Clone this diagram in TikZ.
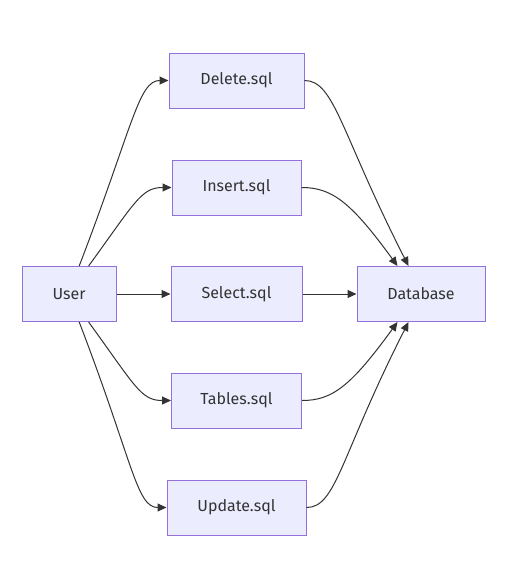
\documentclass[tikz,border=0pt]{standalone}
\usepackage{fontspec}
\setmainfont{Fira Sans}
\usetikzlibrary{arrows.meta}
\definecolor{boxfill}{HTML}{ECECFF}
\definecolor{boxline}{HTML}{9370DB}
\definecolor{edgegray}{HTML}{333333}
\tikzset{sqlbox/.style={draw=boxline, fill=boxfill, line width=1pt, minimum height=55pt, inner sep=0pt, text=edgegray, font=\fontsize{16}{19}\selectfont}}
\tikzset{flow/.style={draw=edgegray, line width=1pt, -{Triangle[length=9pt,width=8pt]}}}

\begin{document}
\begin{tikzpicture}[x=1pt,y=1pt]
\useasboundingbox (0,0) rectangle (517,-574);
\node[sqlbox, minimum width=94pt] (user) at (69,-294) {User};
\node[sqlbox, minimum width=135pt] (delete) at (236.5,-80.5) {Delete.sql};
\node[sqlbox, minimum width=129pt] (insert) at (236.5,-187.5) {Insert.sql};
\node[sqlbox, minimum width=131pt] (select) at (236.5,-294) {Select.sql};
\node[sqlbox, minimum width=130pt] (tables) at (236.5,-400.5) {Tables.sql};
\node[sqlbox, minimum width=139pt] (update) at (236.5,-507.5) {Update.sql};
\node[sqlbox, minimum width=128pt] (database) at (421,-294) {Database};
% user to the scripts
\draw[flow] (user.70) .. controls +(69:150) and +(-30,0) .. (delete.west);
\draw[flow] (user.55) .. controls +(54:80) and +(-30,0) .. (insert.west);
\draw[flow] (user.east) -- (select.west);
\draw[flow] (user.-55) .. controls +(-54:80) and +(-30,0) .. (tables.west);
\draw[flow] (user.-70) .. controls +(-69:150) and +(-30,0) .. (update.west);
% scripts to the database
\draw[flow] (delete.east) .. controls +(30,0) and +(117:150) .. (database.114);
\draw[flow] (insert.east) .. controls +(30,0) and +(126:80) .. (database.130);
\draw[flow] (select.east) -- (database.west);
\draw[flow] (tables.east) .. controls +(30,0) and +(-126:80) .. (database.-130);
\draw[flow] (update.east) .. controls +(30,0) and +(-117:150) .. (database.-114);
\end{tikzpicture}
\end{document}
